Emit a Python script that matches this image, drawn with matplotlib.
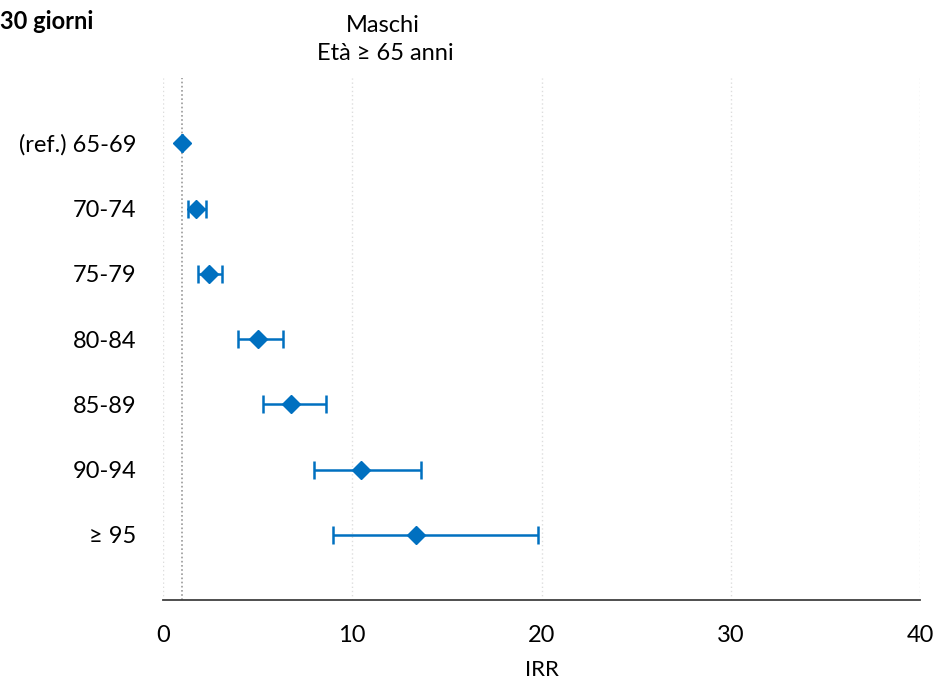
import matplotlib
matplotlib.use("Agg")
import matplotlib.pyplot as plt

# Age classes (top to bottom) and incidence rate ratios with 95% CI
classi = ["(ref.) 65-69", "70-74", "75-79", "80-84", "85-89", "90-94", "\u2265 95"]
irr = [1.0, 1.73, 2.41, 5.00, 6.75, 10.45, 13.35]
ci_low = [1.0, 1.30, 1.85, 3.95, 5.31, 7.98, 9.00]
ci_high = [1.0, 2.27, 3.10, 6.34, 8.61, 13.65, 19.82]
x_ticks = [0, 10, 20, 30, 40]

blu = "#0070C0"
fs = 17
plt.rcParams["font.family"] = ["Lato", "DejaVu Sans"]

W, H = 935, 683
fig = plt.figure(figsize=(W / 100, H / 100), dpi=100)
ax = fig.add_axes([163 / W, 83 / H, 757 / W, 522 / H])

pos = list(range(len(classi)))
err_lo = [v - l for v, l in zip(irr, ci_low)]
err_hi = [h - v for v, h in zip(irr, ci_high)]

# reference line at IRR = 1
ax.axvline(1, color="#999999", linestyle=(0, (1, 1.5)), linewidth=1.2, zorder=1)

ax.errorbar(irr, pos, xerr=[err_lo, err_hi], fmt="D", color=blu, ecolor=blu,
            elinewidth=1.8, capsize=6.5, capthick=1.8, markersize=9, zorder=3)

ax.set_xlim(0, 40)
ax.set_ylim(7, -1)
ax.set_xticks(x_ticks)
ax.set_xticklabels([str(t) for t in x_ticks], fontsize=fs)
ax.set_yticks(pos)
ax.set_yticklabels(classi, fontsize=fs)
ax.tick_params(axis="both", length=0)
ax.tick_params(axis="x", pad=18)
ax.tick_params(axis="y", pad=19)

ax.grid(axis="x", color="#dddddd", linestyle=(0, (1, 2)), linewidth=1.0, zorder=0)
ax.set_axisbelow(True)

for s in ["top", "right", "left"]:
    ax.spines[s].set_visible(False)
ax.spines["bottom"].set_color("#404040")
ax.spines["bottom"].set_linewidth(1.3)

fig.text(541.5 / W, 1 - 676 / H, "IRR", fontsize=fs - 1, ha="center", va="baseline")

fig.text(0.0, 1 - 29 / H, "30 giorni", fontsize=fs, fontweight="bold",
         ha="left", va="baseline")
fig.text(383 / W, 1 - 32 / H, "Maschi", fontsize=fs, ha="center", va="baseline")
fig.text(385 / W, 1 - 60 / H, "Et\u00e0 \u2265 65 anni", fontsize=fs,
         ha="center", va="baseline")

fig.savefig("out.png", dpi=100)
